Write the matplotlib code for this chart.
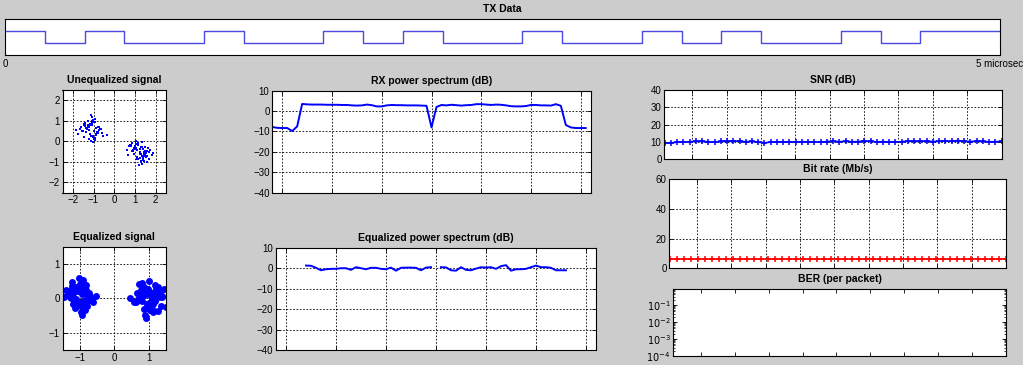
import numpy as np
import matplotlib.pyplot as plt
from matplotlib.ticker import NullFormatter, LogLocator, FixedLocator

plt.rcParams['font.family'] = ['Liberation Sans', 'DejaVu Sans']

W, H = 1023, 365
bg = (0.8, 0.8, 0.8)

# ---- TX data: 25 bits over 5 microsec ----
tx_bits = [1, 0, 1, 0, 0, 1, 0, 0, 1, 0, 1, 0, 0, 1, 0, 0, 1, 0, 1, 0, 0, 1, 0, 1, 1]
tx_len = 5.0

# ---- unequalized constellation (centres, cloud size, hand-read scatter offsets) ----
unq_spread = 1.3
unq_a = (-1.12, 0.55)
unq_a_dx = [0.12, -0.25, 0.31, -0.08, 0.02, -0.41, 0.18, 0.07, -0.15, 0.26, -0.33, 0.05, 0.44, -0.19, -0.02,
            0.15, -0.07, 0.22, -0.28, 0.09, 0.36, -0.11, -0.48, 0.01, 0.19, -0.22, 0.13, -0.05, 0.29, -0.17,
            0.04, -0.36, 0.58, -0.09, 0.11, -0.26, 0.21, -0.01, 0.16, -0.13, 0.33, -0.04, -0.21, 0.08, 0.24,
            -0.31, 0.03, -0.12, 0.41, -0.18, 0.06, -0.55, 0.14, 0.27, -0.06, 0.10, -0.24, 0.20, -0.14, 0.00]
unq_a_dy = [-0.05, 0.21, 0.13, -0.32, 0.27, 0.04, -0.18, 0.38, 0.09, -0.11, -0.02, 0.17, -0.24, 0.06, -0.41,
            0.29, 0.12, -0.07, 0.19, -0.28, 0.03, 0.35, -0.14, -0.22, 0.08, 0.15, -0.36, 0.24, 0.01, -0.09,
            0.47, 0.11, -0.19, -0.01, 0.31, -0.26, -0.06, 0.20, -0.30, 0.14, 0.05, -0.16, 0.26, -0.45, 0.10,
            -0.04, 0.33, 0.18, -0.12, 0.07, -0.23, 0.00, 0.42, -0.08, 0.16, -0.34, 0.22, -0.15, 0.02, 0.55]
unq_b = (1.22, -0.52)
unq_b_dx = [0.07, -0.19, 0.28, -0.35, 0.14, 0.02, -0.09, 0.23, -0.27, 0.11, 0.39, -0.04, -0.16, 0.19, -0.42,
            0.06, 0.31, -0.12, 0.00, 0.25, -0.21, 0.09, -0.31, 0.16, 0.47, -0.07, 0.12, -0.24, 0.04, 0.20,
            -0.14, 0.34, -0.02, -0.38, 0.17, 0.08, -0.29, 0.27, -0.10, 0.13, 0.52, -0.18, 0.03, -0.06, 0.22,
            -0.26, 0.15, -0.47, 0.10, 0.36, -0.13, 0.05, -0.20, 0.29, -0.08, 0.18, -0.33, 0.01, 0.24, -0.11]
unq_b_dy = [0.18, -0.07, 0.02, 0.26, -0.31, 0.12, -0.20, -0.03, 0.35, -0.15, 0.08, -0.27, 0.21, 0.04, -0.11,
            -0.39, 0.15, 0.29, -0.06, -0.18, 0.10, -0.44, 0.24, 0.00, -0.13, 0.32, -0.23, 0.07, -0.35, 0.19,
            0.13, -0.02, -0.50, 0.22, -0.09, 0.38, 0.05, -0.16, -0.28, 0.11, -0.04, 0.17, -0.21, 0.27, -0.12,
            0.03, -0.33, 0.09, 0.20, -0.25, 0.42, -0.08, 0.14, -0.37, 0.06, -0.14, 0.25, -0.01, -0.19, 0.31]

# ---- equalized constellation ----
eq_a = (-1.0, 0.05)
eq_a_dx = [0.05, -0.14, 0.22, -0.28, 0.10, -0.03, 0.17, -0.19, 0.01, 0.26, -0.09, 0.13, -0.37, 0.08, -0.22,
           0.31, -0.05, 0.19, -0.12, 0.02, -0.45, 0.15, -0.17, 0.07, 0.38, -0.26, 0.11, -0.07, 0.24, -0.33,
           0.04, -0.10, 0.20, -0.02, 0.47, -0.20, 0.09, -0.15, 0.14, -0.30, 0.28, -0.06, 0.00, 0.18, -0.24,
           0.12, -0.52, 0.06, -0.11, 0.34, -0.16, 0.21, -0.01, -0.29, 0.16, -0.08, 0.10, -0.40, 0.25, -0.13]
eq_a_dy = [0.08, 0.21, -0.12, 0.03, -0.27, 0.16, 0.34, -0.05, -0.19, 0.11, 0.27, -0.31, 0.06, -0.14, 0.42,
           0.00, -0.23, 0.19, -0.08, 0.30, -0.02, -0.38, 0.13, 0.24, -0.16, -0.04, 0.36, -0.26, 0.09, 0.15,
           -0.45, 0.20, -0.11, 0.55, 0.02, -0.20, 0.12, -0.33, 0.26, 0.05, -0.07, 0.17, -0.24, 0.10, 0.32,
           -0.15, 0.00, -0.52, 0.23, -0.09, 0.14, -0.28, 0.38, -0.01, 0.07, -0.18, 0.47, 0.18, -0.10, 0.29]
eq_b = (1.0, 0.0)
eq_b_dx = [-0.06, 0.18, -0.21, 0.09, 0.30, -0.11, 0.03, -0.34, 0.14, 0.24, -0.16, 0.01, 0.40, -0.08, -0.26,
           0.12, 0.20, -0.02, -0.43, 0.07, 0.35, -0.18, 0.11, -0.04, 0.27, -0.29, 0.16, 0.05, -0.12, 0.50,
           -0.22, 0.00, 0.13, -0.37, 0.22, -0.09, 0.08, 0.33, -0.14, -0.55, 0.19, -0.03, 0.26, -0.19, 0.10,
           -0.07, 0.44, -0.24, 0.04, 0.15, -0.31, 0.23, -0.01, -0.15, 0.29, -0.10, 0.06, 0.38, -0.27, 0.12]
eq_b_dy = [0.12, -0.09, 0.25, -0.20, 0.04, 0.30, -0.33, 0.15, -0.05, 0.21, 0.36, -0.14, 0.07, -0.27, 0.18,
           -0.41, 0.00, 0.28, -0.11, 0.10, -0.22, 0.45, 0.02, -0.17, 0.33, -0.06, -0.36, 0.19, 0.09, -0.25,
           0.14, 0.51, -0.03, -0.12, 0.24, -0.47, 0.06, 0.17, -0.30, 0.01, 0.39, -0.19, 0.22, -0.08, 0.11,
           -0.58, 0.27, 0.05, -0.15, 0.16, -0.02, 0.34, -0.23, 0.08, -0.37, 0.20, -0.10, 0.03, 0.42, -0.16]

# ---- spectra, subcarriers -32..31 ----
subc = list(range(-32, 32))
rx_db = [-7.8, -8.2, -8.3, -8.3, -9.8, -7.5,
         3.5, 3.3, 3.2, 3.2, 3.2, 3.1, 3.1, 3.1, 3.0, 3.0, 2.8, 2.7, 2.8, 3.2, 2.9, 2.3, 2.3,
         2.8, 3.0, 2.9, 2.9, 2.8, 2.8, 2.8, 2.7, 2.6,
         -8.0,
         2.0, 3.0, 2.8, 3.1, 2.9, 2.7, 2.9, 3.0, 3.4, 3.4, 3.2, 3.0, 3.2, 3.1, 2.8, 2.4, 2.3,
         2.3, 2.5, 3.0, 3.0, 2.8, 2.8, 2.7, 3.4, 2.6,
         -6.8, -8.0, -8.3, -8.3, -8.3]
eq_db = [np.nan] * 6 + [
    1.3, 1.2, 0.2, -1.0, -0.5, -0.3, -0.3, 0.0, 0.0, -0.8, 0.5, 0.0, -0.5, 0.2, 0.2, -0.3, -0.5,
    0.3, -1.2, 0.2, 0.3, 0.3, 0.2, -1.0, 0.3, 0.5,
    np.nan,
    0.5, 0.4, -1.0, -1.2, 0.5, -0.8, -1.0, -0.2, 0.5, 0.3, 0.5, -0.3, 1.0, 1.5, -1.2, -0.5,
    -0.5, -0.3, 0.5, 1.3, 0.5, 0.5, 0.2, -1.0, -1.0, -1.0] + [np.nan] * 5

# ---- per packet stats ----
snr_db = [9.6, 9.5, 10.0, 10.0, 10.2, 10.5, 10.4, 10.2, 10.0, 10.4, 10.5, 10.6, 10.5, 10.2, 10.4,
          10.0, 9.6, 10.0, 10.1, 10.2, 10.1, 10.1, 10.2, 10.2, 10.0, 10.1, 10.3, 10.6, 10.2, 10.5,
          10.2, 10.3, 10.6, 10.5, 10.1, 10.3, 10.0, 10.1, 10.2, 10.6, 10.4, 10.6, 10.5, 10.3, 10.5,
          10.7, 10.5, 10.9, 10.5, 10.3, 10.6, 10.4, 10.2, 10.2, 10.5]
bit_rate = [6.0] * 49


def box(l, t, r, b):
    return [l / W, 1 - b / H, (r - l) / W, (b - t) / H]


def style(ax, grid=True):
    ax.set_facecolor('white')
    for s in ax.spines.values():
        s.set_linewidth(0.8)
        s.set_color('black')
    ax.tick_params(direction='in', length=3, width=0.6, top=True, right=True,
                   labelsize=7, pad=2, colors='black')
    if grid:
        ax.grid(True, color='black', linestyle=(0, (2, 2)), linewidth=0.6)


def title(ax, txt):
    ax.set_title(txt, fontsize=7.5, fontweight='bold', pad=5)


fig = plt.figure(figsize=(W / 100, H / 100), dpi=100, facecolor=bg)

# TX data
ax = fig.add_axes(box(5, 19, 1000, 55))
style(ax, grid=False)
edges = np.linspace(0, tx_len, len(tx_bits) + 1)
ax.step(edges, tx_bits + [tx_bits[-1]], where='post', color='#4a4ae0', linewidth=1)
ax.set_xlim(0, tx_len)
ax.set_ylim(-1, 2)
ax.set_xticks([0, tx_len])
ax.set_xticklabels(['0', '5 microsec'])
ax.set_yticks([])
ax.tick_params(length=0, top=False, right=False, pad=3)
title(ax, 'TX Data')

# Unequalized signal
ax = fig.add_axes(box(62.5, 90, 166, 192.5))
style(ax)
for c, dx, dy in [(unq_a, unq_a_dx, unq_a_dy), (unq_b, unq_b_dx, unq_b_dy)]:
    ax.plot(c[0] + unq_spread * np.array(dx), c[1] + unq_spread * np.array(dy), 's',
            color='blue', markersize=2.0, markeredgewidth=0)
ax.set_xlim(-2.5, 2.5)
ax.set_ylim(-2.5, 2.5)
ax.set_xticks([-2, -1, 0, 1, 2])
ax.set_yticks([-2, -1, 0, 1, 2])
title(ax, 'Unequalized signal')

# Equalized signal
ax = fig.add_axes(box(62.7, 246.7, 165.7, 350))
style(ax)
for c, dx, dy in [(eq_a, eq_a_dx, eq_a_dy), (eq_b, eq_b_dx, eq_b_dy)]:
    ax.plot(c[0] + np.array(dx), c[1] + np.array(dy), 'o', color='blue',
            markersize=5, markeredgewidth=0)
ax.set_xlim(-1.5, 1.5)
ax.set_ylim(-1.5, 1.5)
ax.set_xticks([-1, 0, 1])
ax.set_yticks([-1, 0, 1])
title(ax, 'Equalized signal')

# RX power spectrum
ax = fig.add_axes(box(272.3, 90.7, 590.7, 192.7))
style(ax)
ax.plot(subc, rx_db, color='blue', linewidth=1.4)
ax.set_xlim(-32, 32)
ax.set_ylim(-40, 10)
ax.set_xticks(range(-30, 31, 10))
ax.set_yticks(range(-40, 11, 10))
ax.xaxis.set_major_formatter(NullFormatter())
title(ax, 'RX power spectrum (dB)')

# Equalized power spectrum
ax = fig.add_axes(box(276, 247.7, 596, 350.3))
style(ax)
ax.plot(subc, eq_db, color='blue', linewidth=1.4)
ax.set_xlim(-32, 32)
ax.set_ylim(-40, 10)
ax.set_xticks(range(-30, 31, 10))
ax.set_yticks(range(-40, 11, 10))
ax.xaxis.set_major_formatter(NullFormatter())
title(ax, 'Equalized power spectrum (dB)')

# SNR
ax = fig.add_axes(box(664.3, 90, 1001.5, 159.5))
style(ax)
ax.plot(np.linspace(2, 100, len(snr_db)), snr_db, '-+', color='blue', linewidth=1.2,
        markersize=4, markeredgewidth=1.1)
ax.set_xlim(1.9, 100)
ax.set_ylim(0, 40)
ax.set_xticks(range(10, 100, 10))
ax.set_yticks(range(0, 41, 10))
ax.xaxis.set_major_formatter(NullFormatter())
title(ax, 'SNR (dB)')

# Bit rate
ax = fig.add_axes(box(669.3, 179, 1006, 268.3))
style(ax)
ax.plot(np.linspace(2, 100, len(bit_rate)), bit_rate, '-+', color='red', linewidth=1.2,
        markersize=4, markeredgewidth=1.1)
ax.set_xlim(1.9, 100)
ax.set_ylim(0, 60)
ax.set_xticks(range(10, 100, 10))
ax.set_yticks(range(0, 61, 20))
ax.xaxis.set_major_formatter(NullFormatter())
title(ax, 'Bit rate (Mb/s)')

# BER
ax = fig.add_axes(box(673.3, 289, 1006, 355.7))
style(ax, grid=False)
ax.set_yscale('log')
ax.set_xlim(1.9, 100)
ax.set_ylim(1e-4, 0.84)
ax.set_xticks(range(10, 100, 10))
ax.xaxis.set_major_formatter(NullFormatter())
ax.yaxis.set_major_locator(FixedLocator([1e-4, 1e-3, 1e-2, 1e-1]))
ax.set_yticklabels(['$10^{-4}$', '$10^{-3}$', '$10^{-2}$', '$10^{-1}$'])
ax.yaxis.set_minor_locator(LogLocator(base=10, subs=np.arange(2, 10)))
ax.yaxis.set_minor_formatter(NullFormatter())
ax.tick_params(which='minor', direction='in', length=1.5, width=0.5, left=True, right=True)
title(ax, 'BER (per packet)')

fig.savefig('out.png', dpi=100, facecolor=bg)
